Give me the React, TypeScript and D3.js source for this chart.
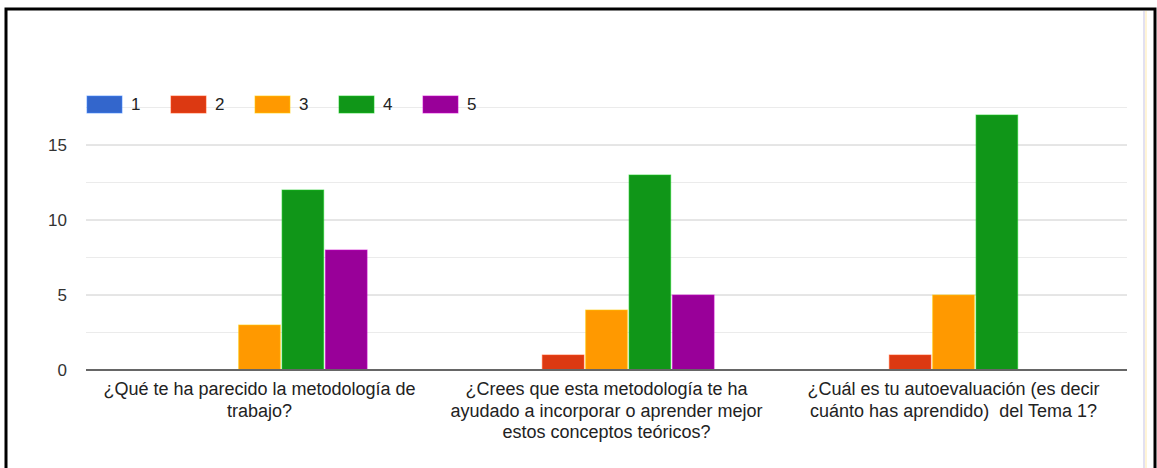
import React from "react";
import * as d3 from "d3";

const categories = ["q1", "q2", "q3"];
const categoryLines = [
  ["¿Qué te ha parecido la metodología de", "trabajo?"],
  ["¿Crees que esta metodología te ha", "ayudado a incorporar o aprender mejor", "estos conceptos teóricos?"],
  ["¿Cuál es tu autoevaluación (es decir", "cuánto has aprendido)  del Tema 1?"],
];
const seriesNames = ["1", "2", "3", "4", "5"];
const seriesColors = ["#3366cc", "#dc3912", "#ff9900", "#109618", "#990099"];
const seriesValues = [
  [0, 0, 0],
  [0, 1, 1],
  [3, 4, 5],
  [12, 13, 17],
  [8, 5, 0],
];
const majorTicks = [0, 5, 10, 15];
const minorTicks = [2.5, 7.5, 12.5, 17.5];

const W = 1157;
const H = 468;
const left = 86;
const right = 1127;
const y0 = 370;
const yTop = 107.5;

export default function App() {
  const y = d3.scaleLinear().domain([0, 17.5]).range([y0, yTop]);
  const x0 = d3.scaleBand().domain(categories).range([left, right]).paddingInner(0.38).paddingOuter(0.19);
  const x1 = d3.scaleBand().domain(seriesNames).range([0, x0.bandwidth()]).paddingInner(0.04);
  const font = "Arial, 'Liberation Sans', sans-serif";
  const legendX = d3.scaleLinear().domain([0, 1]).range([87, 171]);

  return (
    <svg width={W} height={H} style={{ position: "absolute", left: 0, top: 0, background: "#fff" }} fontFamily={font}>
      <rect x={0} y={0} width={W} height={H} fill="#fff" />
      {/* side decoration */}
      <line x1={1144} x2={1144} y1={11} y2={H} stroke="#e2e0f0" strokeWidth={2} />
      <line x1={1146} x2={1146} y1={11} y2={H} stroke="#fff4d6" strokeWidth={2} />
      {/* border */}
      <rect x={6} y={9} width={1149} height={H + 10} fill="none" stroke="#000" strokeWidth={3} />
      {/* grid */}
      {minorTicks.map((t) => (
        <line key={"m" + t} x1={left} x2={right} y1={y(t)} y2={y(t)} stroke="#ebebeb" strokeWidth={1} />
      ))}
      {majorTicks.filter((t) => t > 0).map((t) => (
        <line key={"M" + t} x1={left} x2={right} y1={y(t)} y2={y(t)} stroke="#cccccc" strokeWidth={1} />
      ))}
      {majorTicks.map((t) => (
        <text key={"t" + t} x={67} y={y(t)} dy="0.35em" textAnchor="end" fontSize={17} fill="#333">
          {t}
        </text>
      ))}
      {/* bars */}
      {categories.map((c, ci) => (
        <g key={c} transform={`translate(${x0(c)},0)`}>
          {seriesNames.map((s, si) => {
            const v = seriesValues[si][ci];
            if (v <= 0) return null;
            return (
              <rect
                key={s}
                x={x1(s)}
                y={y(v)}
                width={x1.bandwidth()}
                height={y0 - y(v)}
                fill={seriesColors[si]}
                stroke={d3.color(seriesColors[si])!.brighter(0.8).toString()}
                strokeWidth={1}
                strokeOpacity={0.6}
              />
            );
          })}
        </g>
      ))}
      {/* baseline */}
      <line x1={left} x2={right} y1={y0} y2={y0} stroke="#666" strokeWidth={2} />
      {/* category labels */}
      {categories.map((c, ci) => (
        <text
          key={"l" + c}
          x={(x0(c) as number) + x0.bandwidth() / 2}
          textAnchor="middle"
          fontSize={18}
          fill="#222"
          style={{ whiteSpace: "pre" }}
        >
          {categoryLines[ci].map((ln, li) => (
            <tspan key={li} x={(x0(c) as number) + x0.bandwidth() / 2} y={395 + li * 21.5}>
              {ln}
            </tspan>
          ))}
        </text>
      ))}
      {/* legend */}
      {seriesNames.map((s, si) => (
        <g key={"lg" + s} transform={`translate(${legendX(si)},96)`}>
          <rect x={0} y={0} width={35} height={17} fill={seriesColors[si]} stroke={d3.color(seriesColors[si])!.brighter(0.8).toString()} strokeOpacity={0.6} />
          <text x={44} y={8.5} dy="0.35em" fontSize={17} fill="#222">
            {s}
          </text>
        </g>
      ))}
    </svg>
  );
}
